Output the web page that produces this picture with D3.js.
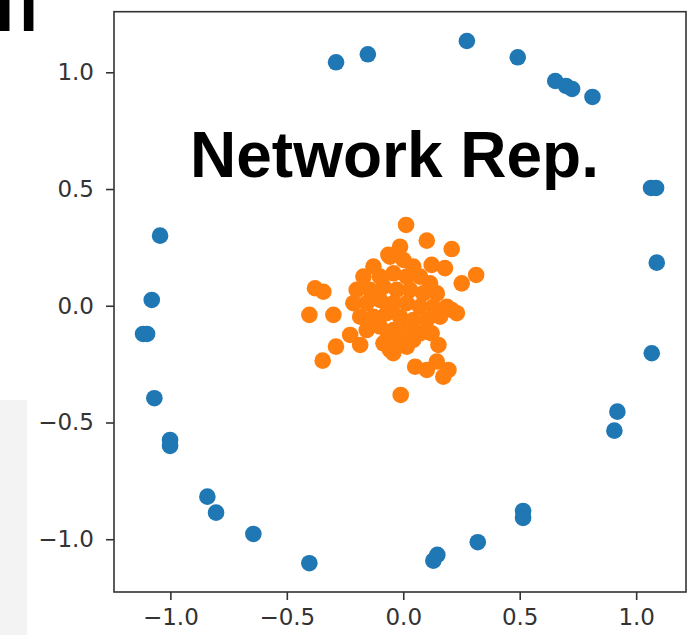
<!DOCTYPE html>
<html>
<head>
<meta charset="utf-8">
<script src="https://cdn.jsdelivr.net/npm/d3@7"></script>
<style>
  html, body { margin: 0; padding: 0; background: #fff; }
  svg { display: block; }
</style>
</head>
<body>
<svg id="chart" width="695" height="635"></svg>
<script>
// ---- data ----
const title = "Network Rep.";
const xTicks = [-1.0, -0.5, 0.0, 0.5, 1.0];
const yTicks = [-1.0, -0.5, 0.0, 0.5, 1.0];
const xDomain = [-1.242, 1.214];
const yDomain = [-1.226, 1.2595];

// blue series (outer ring)
const blueX = [-0.2885, -0.152, 0.2731, 0.4916, 0.6526, 0.699, 0.7248, 0.8124,
  1.064, 1.0855, 1.0885, 1.067, 0.9193, 0.9064, 0.5144, 0.5144, 0.3199, 0.1464, 0.1292,
  -0.4032, -0.6436, -0.8038, -0.8411, -1.0013, -1.0013, -1.0687, -1.1, -1.1172, -1.0799, -1.0442];
const blueY = [1.0428, 1.0771, 1.134, 1.0642, 0.9627, 0.9413, 0.9285, 0.8942,
  0.5045, 0.5045, 0.1846, -0.2034, -0.4535, -0.5349, -0.8788, -0.9088, -1.0128, -1.0672, -1.0916,
  -1.1028, -0.9773, -0.8861, -0.8176, -0.5747, -0.6004, -0.3961, -0.1208, -0.1208, 0.0248, 0.3002];

// orange series (central cluster)
const orangeX = [0.012, 0.101, 0.208, -0.014, -0.064, 0.313, 0.251, 0.179, 0.122,
  -0.379, -0.343, -0.403, -0.300, -0.346, -0.289, -0.228, -0.185, -0.011, 0.051, 0.101,
  0.172, 0.194, 0.144, 0.151, 0.230, 0.208, -0.043, -0.085, 0.015, 0.122,
  -0.057, 0.001, 0.043, -0.128, -0.171, -0.100, -0.042, 0.015, 0.072, 0.115,
  -0.200, -0.143, -0.085, -0.028, 0.029, 0.086, 0.144, -0.214, -0.157, -0.100,
  -0.042, 0.015, 0.072, 0.129, 0.187, -0.185, -0.128, -0.071, -0.014, 0.043,
  0.101, 0.158, -0.157, -0.100, -0.042, 0.015, 0.072, -0.071, -0.014, 0.043, -0.057];
const orangeY = [0.346, 0.279, 0.243, 0.253, 0.218, 0.132, 0.096, 0.161, 0.175,
  0.075, 0.060, -0.039, -0.039, -0.235, -0.175, -0.125, -0.168, -0.382, -0.261, -0.275,
  -0.304, -0.275, -0.239, -0.168, -0.032, -0.018, -0.203, -0.161, -0.175, -0.118,
  0.210, 0.196, 0.168, 0.168, 0.125, 0.125, 0.139, 0.125, 0.125, 0.096,
  0.068, 0.068, 0.082, 0.068, 0.068, 0.053, 0.053, 0.011, 0.011, 0.025,
  0.011, 0.011, -0.004, -0.004, -0.004, -0.047, -0.047, -0.032, -0.047, -0.061,
  -0.061, -0.047, -0.104, -0.089, -0.104, -0.104, -0.118, -0.146, -0.161, -0.146, -0.189];

const series = [
  { name: "blue", xs: blueX, ys: blueY, color: "#1f77b4" },
  { name: "orange", xs: orangeX, ys: orangeY, color: "#ff7f0e" }
];

// ---- layout ----
const svg = d3.select("#chart");
const plot = { left: 114, right: 686, top: 11.7, bottom: 592 };

// stray decorations from the cropped figure
svg.append("rect").attr("x", 0).attr("y", 400).attr("width", 27).attr("height", 235)
  .attr("fill", "#f3f3f3");
svg.append("g").attr("transform", "translate(-5,31) scale(1,1.6)")
  .append("text").attr("x", 0).attr("y", 0)
  .attr("font-family", "Liberation Sans, Arial, sans-serif")
  .attr("font-weight", "bold").attr("font-size", 70).attr("fill", "#000")
  .text("n");

const x = d3.scaleLinear().domain(xDomain).range([plot.left, plot.right]);
const y = d3.scaleLinear().domain(yDomain).range([plot.bottom, plot.top]);

const fmt = v => d3.format(".1f")(v).replace("-", "\u2212");

// points
series.forEach(s => {
  svg.append("g").attr("class", s.name)
    .selectAll("circle")
    .data(s.xs.map((v, i) => [v, s.ys[i]]))
    .join("circle")
    .attr("cx", d => x(d[0]))
    .attr("cy", d => y(d[1]))
    .attr("r", 8.3)
    .attr("fill", s.color);
});

// axes
const axisColor = "#333";
const gx = svg.append("g").attr("transform", `translate(0,${plot.bottom})`)
  .call(d3.axisBottom(x).tickValues(xTicks).tickFormat(fmt).tickSize(8).tickPadding(9).tickSizeOuter(0));
const gy = svg.append("g").attr("transform", `translate(${plot.left},0)`)
  .call(d3.axisLeft(y).tickValues(yTicks).tickFormat(fmt).tickSize(8).tickPadding(12).tickSizeOuter(0));
[gx, gy].forEach(g => {
  g.select(".domain").remove();
  g.selectAll(".tick line").attr("stroke", axisColor).attr("stroke-width", 1.6);
  g.selectAll(".tick text")
    .attr("font-family", "DejaVu Sans, sans-serif")
    .attr("font-size", 23)
    .attr("fill", "#333");
});

// frame
svg.append("rect")
  .attr("x", plot.left).attr("y", plot.top)
  .attr("width", plot.right - plot.left).attr("height", plot.bottom - plot.top)
  .attr("fill", "none").attr("stroke", axisColor).attr("stroke-width", 1.6);

// title
svg.append("text")
  .attr("x", 190).attr("y", 177)
  .attr("font-family", "Liberation Sans, Arial, Helvetica, sans-serif")
  .attr("font-weight", "bold").attr("font-size", 64).attr("fill", "#000")
  .text(title);
</script>
</body>
</html>
